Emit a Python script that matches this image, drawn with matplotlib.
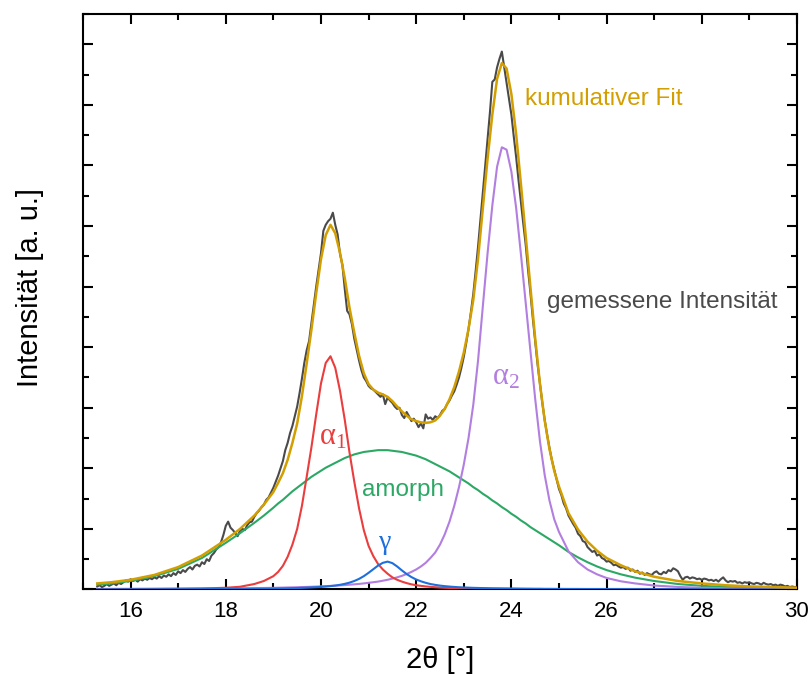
"""
XRD pattern with peak deconvolution (alpha1, alpha2, gamma, amorphous halo).
"""

import numpy as np
import matplotlib
matplotlib.use("Agg")
import matplotlib.pyplot as plt
from matplotlib.ticker import MultipleLocator, NullFormatter

plt.rcParams["font.family"] = ["Liberation Sans", "DejaVu Sans"]
plt.rcParams["mathtext.fontset"] = "custom"
plt.rcParams["mathtext.rm"] = "Liberation Serif"
plt.rcParams["mathtext.it"] = "Liberation Serif:italic"

COLOR_DATA = "#4a4a4a"
COLOR_FIT = "#d39e00"
COLOR_A1 = "#ea3d3d"
COLOR_A2 = "#b27ee0"
COLOR_AMORPH = "#2ca865"
COLOR_GAMMA = "#1e6fdc"

# 2theta grid of the fitted curves
X_FIT = [15.3, 15.6, 16.0, 16.5, 17.0, 17.5, 18.0, 18.3, 18.6, 18.8,
         19.0, 19.1, 19.2, 19.3, 19.4, 19.5, 19.6, 19.7, 19.8, 19.9,
         20.0, 20.1, 20.2, 20.3, 20.4, 20.5, 20.6, 20.7, 20.8, 20.9,
         21.0, 21.1, 21.2, 21.3, 21.4, 21.5, 21.6, 21.7, 21.8, 21.9,
         22.0, 22.1, 22.2, 22.3, 22.4, 22.5, 22.6, 22.7, 22.8, 22.9,
         23.0, 23.1, 23.2, 23.3, 23.4, 23.5, 23.6, 23.7, 23.8, 23.9,
         24.0, 24.1, 24.2, 24.3, 24.4, 24.5, 24.6, 24.7, 24.8, 24.9,
         25.0, 25.2, 25.4, 25.6, 25.8, 26.0, 26.3, 26.6, 27.0, 27.5,
         28.0, 28.5, 29.0, 29.5, 30.0]

ALPHA1 = [0.005, 0.006, 0.007, 0.009, 0.012, 0.017, 0.028, 0.045, 0.09, 0.14,
          0.22, 0.29, 0.39, 0.54, 0.74, 1.00, 1.38, 1.86, 2.35, 2.89,
          3.40, 3.74, 3.85, 3.66, 3.28, 2.80, 2.26, 1.78, 1.34, 0.98,
          0.72, 0.55, 0.42, 0.33, 0.26, 0.20, 0.16, 0.13, 0.105, 0.085,
          0.07, 0.06, 0.05, 0.043, 0.037, 0.032, 0.028, 0.025, 0.022, 0.02,
          0.018, 0.017, 0.016, 0.015, 0.014, 0.013, 0.012, 0.012, 0.011, 0.011,
          0.010, 0.010, 0.009, 0.009, 0.008, 0.008, 0.008, 0.007, 0.007, 0.007,
          0.006, 0.006, 0.005, 0.005, 0.005, 0.004, 0.004, 0.004, 0.003, 0.003,
          0.003, 0.002, 0.002, 0.002, 0.002]

ALPHA2 = [0.008, 0.009, 0.010, 0.011, 0.013, 0.015, 0.018, 0.02, 0.023, 0.025,
          0.027, 0.029, 0.031, 0.033, 0.035, 0.037, 0.04, 0.042, 0.045, 0.048,
          0.051, 0.055, 0.059, 0.063, 0.068, 0.073, 0.079, 0.085, 0.092, 0.10,
          0.11, 0.12, 0.13, 0.145, 0.16, 0.18, 0.20, 0.225, 0.255, 0.29,
          0.33, 0.38, 0.44, 0.52, 0.61, 0.74, 0.91, 1.12, 1.38, 1.69,
          2.06, 2.50, 3.05, 3.78, 4.67, 5.55, 6.34, 6.98, 7.30, 7.26,
          6.90, 6.30, 5.54, 4.74, 3.94, 3.15, 2.45, 1.89, 1.47, 1.16,
          0.95, 0.63, 0.45, 0.33, 0.25, 0.19, 0.135, 0.10, 0.065, 0.042,
          0.028, 0.02, 0.015, 0.012, 0.01]

AMORPH = [0.08, 0.10, 0.14, 0.22, 0.34, 0.52, 0.77, 0.93, 1.10, 1.22,
          1.35, 1.42, 1.48, 1.55, 1.62, 1.68, 1.74, 1.80, 1.86, 1.91,
          1.96, 2.01, 2.05, 2.09, 2.13, 2.17, 2.20, 2.23, 2.25, 2.27,
          2.28, 2.29, 2.30, 2.30, 2.30, 2.29, 2.28, 2.27, 2.25, 2.23,
          2.21, 2.18, 2.15, 2.11, 2.07, 2.03, 1.99, 1.95, 1.90, 1.85,
          1.80, 1.75, 1.69, 1.64, 1.58, 1.53, 1.47, 1.42, 1.36, 1.31,
          1.25, 1.20, 1.14, 1.09, 1.03, 0.98, 0.93, 0.88, 0.83, 0.78,
          0.73, 0.62, 0.53, 0.45, 0.38, 0.32, 0.25, 0.195, 0.14, 0.09,
          0.06, 0.04, 0.028, 0.02, 0.014]

GAMMA = [0.003, 0.003, 0.004, 0.004, 0.005, 0.006, 0.008, 0.009, 0.011, 0.013,
         0.015, 0.016, 0.018, 0.02, 0.022, 0.024, 0.027, 0.03, 0.034, 0.038,
         0.043, 0.049, 0.056, 0.065, 0.077, 0.093, 0.113, 0.14, 0.175, 0.22,
         0.275, 0.335, 0.395, 0.44, 0.46, 0.435, 0.38, 0.315, 0.255, 0.205,
         0.165, 0.135, 0.11, 0.09, 0.076, 0.064, 0.055, 0.048, 0.042, 0.037,
         0.033, 0.03, 0.027, 0.025, 0.023, 0.021, 0.019, 0.018, 0.017, 0.016,
         0.015, 0.014, 0.013, 0.012, 0.012, 0.011, 0.011, 0.010, 0.010, 0.009,
         0.009, 0.008, 0.008, 0.007, 0.007, 0.006, 0.006, 0.005, 0.005, 0.004,
         0.004, 0.003, 0.003, 0.003, 0.003]

CUMULATIVE = [0.10, 0.12, 0.16, 0.24, 0.37, 0.56, 0.82, 1.00, 1.22, 1.40,
              1.61, 1.76, 1.92, 2.14, 2.42, 2.74, 3.19, 3.73, 4.29, 4.89,
              5.45, 5.85, 6.02, 5.88, 5.56, 5.14, 4.65, 4.24, 3.86, 3.57,
              3.39, 3.30, 3.25, 3.22, 3.18, 3.11, 3.02, 2.94, 2.87, 2.81,
              2.78, 2.76, 2.75, 2.76, 2.79, 2.87, 2.98, 3.14, 3.34, 3.60,
              3.91, 4.30, 4.78, 5.46, 6.29, 7.11, 7.84, 8.43, 8.69, 8.60,
              8.18, 7.52, 6.70, 5.85, 4.99, 4.15, 3.40, 2.79, 2.32, 1.96,
              1.70, 1.26, 0.99, 0.79, 0.64, 0.52, 0.40, 0.30, 0.21, 0.14,
              0.10, 0.07, 0.05, 0.04, 0.03]

# measured intensity, 2theta = 15.30 ... 30.00 in steps of 0.05
MEASURED_START = 15.3
MEASURED_END = 30.0
MEASURED = [
    0.05, 0.07, 0.04, 0.06, 0.09, 0.06, 0.08, 0.10, 0.07, 0.11, 0.09, 0.12, 0.15, 0.13,
    0.17, 0.14, 0.16, 0.13, 0.17, 0.15, 0.18, 0.16, 0.19, 0.17, 0.20, 0.18, 0.22, 0.19, 0.23, 0.21, 0.25, 0.22, 0.27, 0.24,
    0.30, 0.27, 0.32, 0.29, 0.34, 0.37, 0.33, 0.39, 0.41, 0.38, 0.45, 0.42, 0.50, 0.47, 0.56, 0.60, 0.66, 0.70, 0.78, 0.90,
    1.05, 1.12, 1.02, 0.98, 0.93, 0.88, 0.97, 1.00, 0.98, 1.06, 1.11, 1.12, 1.20, 1.26, 1.30, 1.36, 1.40, 1.48, 1.52, 1.60,
    1.68, 1.78, 1.88, 2.00, 2.12, 2.30, 2.42, 2.58, 2.70, 2.86, 3.02, 3.24, 3.48, 3.74, 3.95, 4.10, 4.40, 4.70, 5.00, 5.28,
    5.55, 5.92, 6.02, 6.08, 6.12, 6.22, 6.02, 5.86, 5.54, 5.36, 4.96, 4.60, 4.54, 4.38, 4.14, 3.96, 3.78, 3.62, 3.50, 3.44,
    3.36, 3.32, 3.30, 3.26, 3.22, 3.18, 3.22, 3.06, 3.17, 3.12, 3.08, 3.02, 2.98, 3.00, 2.88, 2.83, 2.93, 2.86, 2.78, 2.82,
    2.76, 2.68, 2.74, 2.66, 2.89, 2.82, 2.84, 2.80, 2.86, 2.83, 2.88, 2.95, 2.98, 3.06, 3.12, 3.20, 3.27, 3.38, 3.50, 3.66,
    3.84, 4.06, 4.30, 4.58, 4.88, 5.26, 5.66, 6.10, 6.56, 7.00, 7.44, 7.88, 8.38, 8.42, 8.62, 8.76, 8.88, 8.62, 8.36, 8.10,
    7.84, 7.48, 7.14, 6.76, 6.40, 6.04, 5.70, 5.28, 4.90, 4.48, 4.10, 3.72, 3.40, 3.08, 2.80, 2.56, 2.34, 2.14, 1.98, 1.82,
    1.66, 1.56, 1.42, 1.34, 1.22, 1.15, 1.08, 1.02, 0.92, 0.88, 0.80, 0.78, 0.70, 0.66, 0.62, 0.64, 0.56, 0.58, 0.52, 0.50,
    0.46, 0.47, 0.44, 0.40, 0.41, 0.38, 0.36, 0.37, 0.34, 0.36, 0.31, 0.33, 0.29, 0.31, 0.26, 0.28, 0.24, 0.27, 0.25, 0.24,
    0.28, 0.30, 0.26, 0.25, 0.29, 0.27, 0.32, 0.30, 0.35, 0.33, 0.30, 0.22, 0.16, 0.20, 0.21, 0.18, 0.20, 0.19, 0.17, 0.18,
    0.16, 0.18, 0.17, 0.15, 0.16, 0.14, 0.16, 0.13, 0.17, 0.20, 0.15, 0.12, 0.14, 0.13, 0.14, 0.11, 0.12, 0.10, 0.12, 0.11,
    0.12, 0.10, 0.09, 0.11, 0.10, 0.08, 0.11, 0.09, 0.08, 0.09, 0.07, 0.08, 0.06, 0.08, 0.07, 0.05, 0.06, 0.04, 0.05, 0.04,
    0.04,
]


def main() -> None:
    x_meas = np.linspace(MEASURED_START, MEASURED_END, len(MEASURED))

    fig = plt.figure(figsize=(8.11, 6.74), dpi=100)
    ax = fig.add_axes([0.1023, 0.1254, 0.8804, 0.8538])

    ax.plot(x_meas, MEASURED, color=COLOR_DATA, lw=1.5, zorder=2)
    ax.plot(X_FIT, AMORPH, color=COLOR_AMORPH, lw=1.5, zorder=3)
    ax.plot(X_FIT, ALPHA2, color=COLOR_A2, lw=1.5, zorder=3)
    ax.plot(X_FIT, ALPHA1, color=COLOR_A1, lw=1.5, zorder=3)
    ax.plot(X_FIT, GAMMA, color=COLOR_GAMMA, lw=1.5, zorder=4)
    ax.plot(X_FIT, CUMULATIVE, color=COLOR_FIT, lw=1.8, zorder=5)

    ax.text(24.28, 8.09, "kumulativer Fit", color=COLOR_FIT, fontsize=17.5,
            ha="left", va="center")
    ax.text(24.75, 4.75, "gemessene Intensität", color=COLOR_DATA,
            fontsize=17.5, ha="left", va="center")
    ax.text(20.87, 1.64, "amorph", color=COLOR_AMORPH, fontsize=17.5,
            ha="left", va="center")
    ax.text(20.24, 2.52, r"$\mathrm{\alpha}_{\mathrm{1}}$", color=COLOR_A1,
            fontsize=22, ha="center", va="center")
    ax.text(23.88, 3.51, r"$\mathrm{\alpha}_{\mathrm{2}}$", color=COLOR_A2,
            fontsize=22, ha="center", va="center")
    ax.text(21.35, 0.77, "γ", color=COLOR_GAMMA, fontsize=20,
            family="Liberation Serif", ha="center", va="center")

    ax.set_xlim(15, 30)
    ax.set_ylim(0, 9.5)
    ax.xaxis.set_major_locator(MultipleLocator(2))
    ax.xaxis.set_minor_locator(MultipleLocator(1))
    ax.yaxis.set_major_locator(MultipleLocator(1))
    ax.yaxis.set_minor_locator(MultipleLocator(0.5))
    ax.yaxis.set_major_formatter(NullFormatter())

    ax.tick_params(which="both", direction="in", top=True, right=True,
                   width=1.5, labelsize=16, pad=8)
    ax.tick_params(which="major", length=7.5)
    ax.tick_params(which="minor", length=4.5)
    for spine in ax.spines.values():
        spine.set_linewidth(1.5)

    ax.set_xlabel("2θ [°]", fontsize=21)
    ax.set_ylabel("Intensität [a. u.]", fontsize=21)
    ax.xaxis.set_label_coords(0.5, -0.1225)
    ax.xaxis.label.set_va("center")
    ax.yaxis.set_label_coords(-0.074, 0.525)
    ax.yaxis.label.set_va("center")

    fig.savefig("out.png", dpi=100)


if __name__ == "__main__":
    main()
